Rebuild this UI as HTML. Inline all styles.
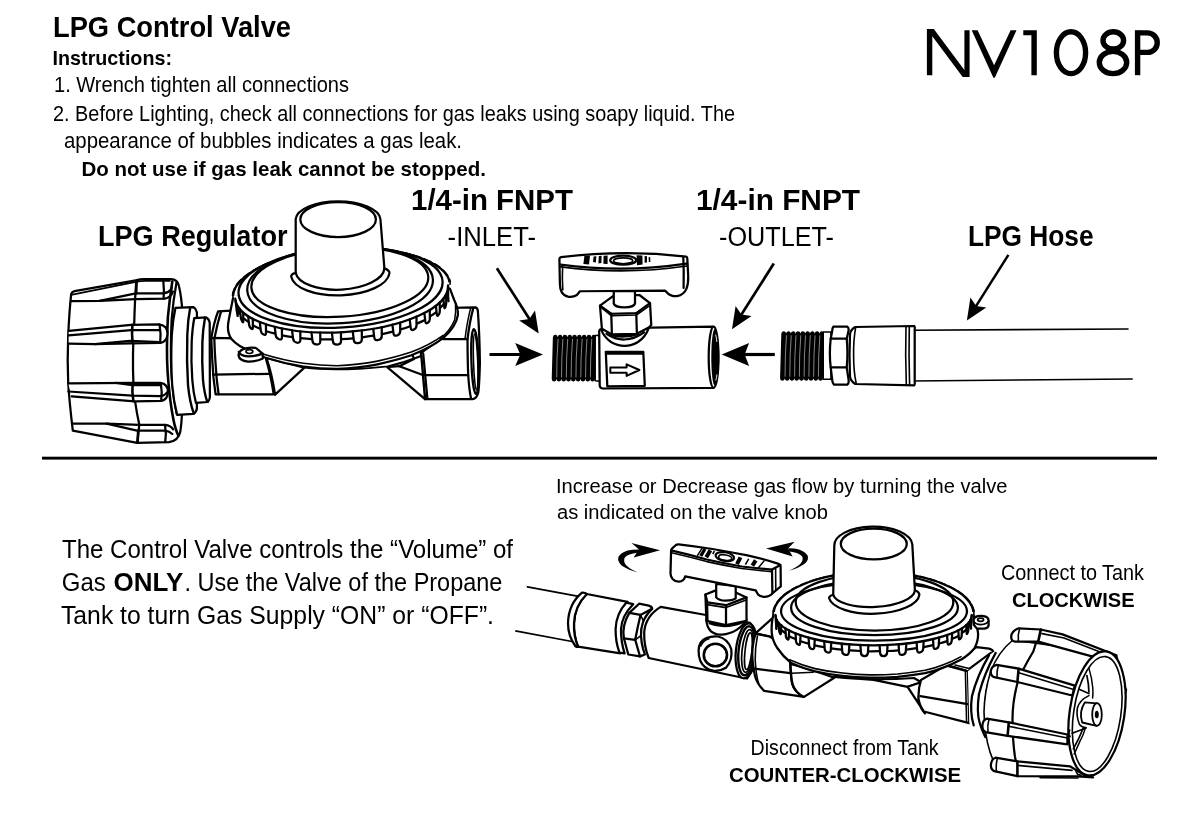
<!DOCTYPE html>
<html lang="en">
<head>
<meta charset="utf-8">
<title>NV108P LPG Control Valve</title>
<style>
html,body{margin:0;padding:0;background:#fff;}
body{width:1200px;height:819px;overflow:hidden;font-family:"Liberation Sans",sans-serif;}
svg{display:block;}
text{font-family:"Liberation Sans",sans-serif;fill:#000;}
.ln{fill:none;stroke:#000;stroke-width:2.25;stroke-linecap:round;stroke-linejoin:round;}
.lw{fill:#fff;stroke:#000;stroke-width:2.25;stroke-linecap:round;stroke-linejoin:round;}
.th{fill:none;stroke:#000;stroke-width:1.4;stroke-linecap:round;stroke-linejoin:round;}
.tw{fill:#fff;stroke:#000;stroke-width:1.4;stroke-linecap:round;stroke-linejoin:round;}
.bk{fill:#000;stroke:none;}
.ar{fill:none;stroke:#000;stroke-width:2.6;stroke-linecap:butt;}
</style>
</head>
<body>
<svg width="1200" height="819" viewBox="0 0 1200 819">
<rect x="0" y="0" width="1200" height="819" fill="#fff"/>
<!-- 00_rule.svg -->
<rect x="42" y="456.7" width="1115" height="2.9" fill="#000"/>
<!-- 05_model.svg -->
<g id="modelNo">
<path class="bk" d="M926.9,30.2 L926.9,29 L933.8,29 L964.4,70 L964.4,30.2 L969.6,30.2 L969.6,77 L962.7,77 L932.3,36.2 L932.3,75.2 L926.9,75.2 Z"/>
<path class="bk" d="M971.7,30.2 L977.6,30.2 L994.1,65.3 L1010.6,30.2 L1016.5,30.2 L994.8,77.8 L993.4,77.8 Z"/>
<path class="bk" d="M1023.3,30.2 L1036.8,30.2 L1036.8,75.2 L1031.4,75.2 L1031.4,35.2 L1023.3,35.2 Z"/>
<ellipse cx="1071" cy="52.7" rx="14.6" ry="20.9" fill="none" stroke="#000" stroke-width="5.4"/>
<ellipse cx="1113.3" cy="40.4" rx="10.3" ry="8.6" fill="none" stroke="#000" stroke-width="5.4"/>
<ellipse cx="1113" cy="62.5" rx="13.7" ry="11.1" fill="none" stroke="#000" stroke-width="5.4"/>
<path class="bk" d="M1134.9,30.2 L1140.3,30.2 L1140.3,75.2 L1134.9,75.2 Z"/>
<path d="M1139,32.9 L1147.5,32.9 A9.75,9.75 0 0 1 1147.5,52.4 L1139,52.4" fill="none" stroke="#000" stroke-width="5.4"/>
</g>
<!-- 10_nut_top.svg -->
<g id="nutTop">
<!-- nut silhouette -->
<path class="lw" d="M71.2,293.8 Q72,291.8 74.5,291.2 L135.8,280.4 Q140,279.3 144,279.2 L171,279.2 Q177.5,279.6 178.8,285.5 Q181.5,296 182.6,315 Q183.6,360 182.4,405 Q181.6,425 180.2,432 Q178.5,440.5 169,442.2 L137.2,442.8 L72.8,430.6 Q69.2,400 68.2,383 Q67.2,360 68.2,336 Q69.2,312 71.2,293.8 Z"/>
<!-- double top edge -->
<path class="ln" d="M72.4,294.6 L135.8,281.9 Q140,281 146,280.9 L170,280.9" style="stroke-width:1.6"/>
<!-- seam line -->
<path class="ln" d="M136.3,280.4 Q134.8,300 134.2,324.6 Q132.2,355 133.4,382.8 Q134,400 139.3,424.8 L137.2,442.8"/>
<!-- right-face '(' curves -->
<path class="ln" d="M172.3,281.5 Q169.5,300 167.9,317 Q166.2,350 167.6,372 Q169.5,400 173.5,420 Q175.5,430 178.4,435.6" style="stroke-width:2.6"/>
<path class="ln" d="M176.6,282 Q173.2,300 171.6,320 Q170.3,350 171.4,372 Q173,398 176.8,414"/>
<!-- top rib -->
<path class="ln" d="M71.8,301.2 L99.7,300.8 L135.8,293.4 L162.7,293.3 Q169.8,292.8 171.6,288"/>
<path class="ln" d="M99.7,300.8 L135.8,299.2 L165,298.6 Q171.3,297 173,291.5"/>
<path class="ln" d="M163.3,281 Q164.3,290 163.6,298.6"/>
<path class="ln" d="M136.6,281 L136.2,293.4" style="stroke-width:2.6"/>
<!-- upper-mid rib -->
<path class="lw" d="M68.7,330.8 L131.2,324.9 L159.2,324.3 Q167.6,325.5 167.5,333.5 Q167.3,341.5 160.3,343 L130,343.4 L95,344.2 L68.6,343.6"/>
<path class="ln" d="M68.6,335.4 L131.2,330.2 L159.6,330.2"/>
<path class="ln" d="M95,344.2 L130,340.8 L160,342.2" />
<path class="ln" d="M159.6,324.6 Q161.2,334 160.2,342.8"/>
<path class="ln" d="M132.4,324.9 Q131.6,334 132.6,343.2" style="stroke-width:2.6"/>
<!-- lower-mid rib -->
<path class="lw" d="M68.3,383.4 L132.3,382.8 L160.3,382.8 Q168,384 167.9,391.5 Q167.8,399.6 161.5,400.9 L134.7,401.4 L71.7,396.3"/>
<path class="ln" d="M116,382.9 L132.3,385.1 L160.6,385.1"/>
<path class="ln" d="M68.4,391.5 L132.3,395.7 L160.6,396.2 Q165,395.6 167,392.5"/>
<path class="ln" d="M160.8,383 Q162.4,392 161.2,400.8"/>
<path class="ln" d="M132.6,383 Q131.8,392 133.4,401.2" style="stroke-width:2.6"/>
<!-- bottom rib -->
<path class="ln" d="M72.3,423.7 L106.7,423.7 L139.3,424.9 L165,424.9 Q171,425.6 173.2,429.4"/>
<path class="ln" d="M106.7,423.7 L137,430.7 L165,430.7 Q169.5,431.4 172.3,434"/>
<path class="ln" d="M165,425 Q166.6,434 165.2,441.8"/>
<path class="ln" d="M138.2,430.6 L137.6,442.6" style="stroke-width:2.6"/>
<!-- ring 1 -->
<path class="lw" d="M175.4,307.9 L193.3,307.1 Q196,308.5 196.9,312.2 L196.9,408.5 Q196.2,412.5 193.3,413.9 L177.1,414.8 Q173.4,400 172.2,385 Q170.6,361 171.8,335 Q172.8,320 175.4,307.9 Z"/>
<path class="ln" d="M190.2,307.5 Q187.8,320 187.3,335 Q186.5,361 188,385 Q189.6,402 193.8,413.5" style="stroke-width:2.4"/>
<!-- ring 2 -->
<path class="lw" d="M194.2,318.2 L206.2,317.4 Q209,318.8 209.7,322.6 L209.9,397 Q209.5,400.6 207.9,402 L195.9,402.8 Q193.2,392 192.3,380 Q190.9,361 191.7,341 Q192.4,328 194.2,318.2 Z"/>
<path class="ln" d="M205,317.8 Q202.8,330 202.4,342 Q201.8,362 203,380 Q204.2,393 207.2,401.6" style="stroke-width:2.4"/>
</g>
<!-- 20_reg_top.svg -->
<g id="regTop">
<path class="lw" d="M218.1,311.4 L236,310.3 L240,338.5 L211.3,337.9 Q214,322 218.1,311.4 Z"/>
<path class="lw" d="M211.3,337.9 L250,338.7 L268,356 Q272,372 275.1,394.3 L215.6,394.3 Q213,378 212.4,362 Q211.6,348 211.3,337.9 Z"/>
<path class="ln" d="M214.3,338.2 Q214.6,350 215.6,364 Q216.4,380 218.6,394"/>
<path class="ln" d="M213,374.6 L269.8,373.8"/>
<path class="ln" d="M266,359 Q270.5,374 273.6,393.5"/>
<path class="ln" d="M221,311.6 Q217.2,324 214.6,337.6"/>
<path class="lw" d="M266.5,358 Q272,374 275.1,394.6 L304.4,367.6 Z"/>
<path class="lw" d="M452,307.9 L475.5,307.3 Q477.9,308.4 477.9,311.5 Q479.6,335 479.9,363 Q479.4,383 478.4,392 Q477,398.5 472.6,399.2 L425,399.2 L420.8,353 L440,339.1 Z"/>
<path class="ln" d="M443.3,339.1 L467.5,339.1"/>
<path class="ln" d="M473.2,308.4 Q469.6,322 467.5,339.1 Q467.6,360 468.2,375 Q469.2,390 471.1,398.8"/>
<path class="ln" d="M470.6,308.4 Q467,322 465,339.1" style="stroke-width:1.5"/>
<path class="ln" d="M422.8,375 L468.2,375"/>
<path class="ln" d="M423.2,353.5 L427.4,398.8"/>
<ellipse class="ln" cx="475" cy="361.5" rx="3.6" ry="32.5" transform="rotate(-2 475 361.5)"/>
<ellipse class="ln" cx="475.6" cy="362" rx="2.1" ry="28" transform="rotate(-2 475 361.5)" style="stroke-width:1.5"/>
<path class="lw" d="M386.9,366.9 L425,399.2 L421.3,356 L404,362 Z"/>
<path class="ln" d="M399.3,366.2 L422.8,375"/>
<path class="ln" d="M412.5,355.2 L414,358.9 L399.3,366.2 L389,367"/>
<path class="lw" d="M232.9,298.8 Q230.2,312 228.4,322 Q226.6,332 231.5,339 Q238,346.5 249.3,350.3 Q256,354 265,357.5 Q284,363.6 303.3,366.5 Q320,368.9 337,368.9 Q358,368.2 377.5,364.3 Q396,360.4 411.3,355.3 Q430,348 442.8,338.4 Q456,327 457.9,315 Q458.2,308 454.2,300 Q452,294 450,288.8 L341,250 Z"/>
<path class="ln" d="M262.8,354 Q284,360.4 303.3,363.3 Q320,365.7 337,365.7 Q358,365 377.5,361.1 Q396,357.2 411.3,352.1 Q430,344.8 442.8,335.6" style="stroke-width:1.6"/>
<path class="ln" d="M304.4,367.8 Q337,371.6 385.4,366.6" style="stroke-width:1.6"/>
<path class="ln" d="M455.5,303 Q456.2,312 454.6,320 Q450,331 440,338.6" style="stroke-width:1.5"/>
<g transform="rotate(-3.5 341 290)">
<path class="lw" d="M233.0,290.5 A108.5,41.5 0 0 1 450.0,290.5 Z"/>
<path class="ln" d="M232.4,288.5 A109.3,42.8 0 0 1 450.6,288.5" style="stroke-width:1.6;stroke-dasharray:7 4"/>
<path d="M233.4,289.2 A108.1,40.0 0 0 0 449.6,289.2" fill="#fff" stroke="none"/>
<path class="ln" d="M447.4,301.1 A106.6,40.0 0 0 1 445.4,305.5"/>
<path class="ln" d="M443.0,309.9 A106.6,40.0 0 0 1 438.8,314.0"/>
<path class="ln" d="M434.7,318.0 A106.6,40.0 0 0 1 428.4,321.8"/>
<path class="ln" d="M422.8,325.0 A106.6,40.0 0 0 1 414.7,328.2"/>
<path class="ln" d="M407.8,330.4 A106.6,40.0 0 0 1 398.1,333.0"/>
<path class="ln" d="M390.2,334.7 A106.6,40.0 0 0 1 379.4,336.5"/>
<path class="ln" d="M370.8,337.6 A106.6,40.0 0 0 1 359.3,338.5"/>
<path class="ln" d="M350.2,339.0 A106.6,40.0 0 0 1 338.4,339.1"/>
<path class="ln" d="M329.3,338.8 A106.6,40.0 0 0 1 317.7,338.1"/>
<path class="ln" d="M308.9,337.2 A106.6,40.0 0 0 1 297.9,335.6"/>
<path class="ln" d="M289.7,334.1 A106.6,40.0 0 0 1 279.7,331.7"/>
<path class="ln" d="M272.6,329.6 A106.6,40.0 0 0 1 264.0,326.6"/>
<path class="ln" d="M258.0,323.7 A106.6,40.0 0 0 1 251.2,320.1"/>
<path class="ln" d="M246.7,316.2 A106.6,40.0 0 0 1 241.9,312.1"/>
<path class="ln" d="M239.0,307.9 A106.6,40.0 0 0 1 236.4,303.5"/>
<path class="lw" d="M447.0,297.9 L447.5,307.7 Q447.7,308.1 447.6,305.3 Q447.4,302.5 447.6,302.0 L448.1,292.2"/>
<path class="lw" d="M442.6,304.8 L443.1,314.0 Q443.3,315.2 444.2,313.2 Q445.0,311.1 445.2,309.9 L445.7,300.7"/>
<path class="lw" d="M434.7,311.6 L435.2,320.8 Q435.4,322.5 436.7,320.9 Q438.1,319.4 438.3,317.7 L438.8,308.6"/>
<path class="lw" d="M422.8,318.1 L423.3,327.0 Q423.5,329.3 425.6,328.0 Q427.7,326.6 427.9,324.3 L428.4,315.4"/>
<path class="lw" d="M407.8,323.5 L408.3,332.2 Q408.5,335.1 411.2,334.0 Q414.0,332.9 414.2,330.0 L414.7,321.3"/>
<path class="lw" d="M390.2,327.8 L390.7,336.3 Q390.9,339.7 394.2,338.8 Q397.4,338.0 397.6,334.6 L398.1,326.1"/>
<path class="lw" d="M370.8,330.7 L371.3,339.3 Q371.5,342.7 375.1,342.2 Q378.7,341.7 378.9,338.3 L379.4,329.6"/>
<path class="lw" d="M350.2,332.1 L350.7,340.8 Q350.9,344.2 354.8,344.0 Q358.6,343.8 358.8,340.4 L359.3,331.6"/>
<path class="lw" d="M329.3,331.9 L329.8,340.7 Q330.0,344.1 333.9,344.3 Q337.7,344.4 337.9,341.0 L338.4,332.2"/>
<path class="lw" d="M308.9,330.3 L309.4,339.0 Q309.6,342.4 313.3,342.9 Q317.0,343.3 317.2,339.9 L317.7,331.2"/>
<path class="lw" d="M289.7,327.2 L290.2,335.7 Q290.4,339.1 293.8,339.9 Q297.2,340.6 297.4,337.2 L297.9,328.7"/>
<path class="lw" d="M272.6,322.7 L273.1,331.4 Q273.3,334.4 276.2,335.4 Q279.0,336.5 279.2,333.5 L279.7,324.8"/>
<path class="lw" d="M258.0,317.1 L258.5,325.9 Q258.7,328.4 261.0,329.7 Q263.3,331.0 263.5,328.5 L264.0,319.7"/>
<path class="lw" d="M246.7,310.5 L247.2,319.6 Q247.4,321.5 248.9,322.9 Q250.5,324.4 250.7,322.5 L251.2,313.5"/>
<path class="lw" d="M238.9,303.1 L239.4,312.4 Q239.6,313.6 240.5,315.3 Q241.3,317.0 241.5,315.8 L242.0,306.5"/>
<path class="lw" d="M235.1,294.4 L235.6,303.8 Q235.8,304.6 236.0,307.4 Q236.2,310.2 236.4,309.4 L236.9,300.0"/>
<path class="ln" d="M234.9,292.2 A106.6,40.0 0 0 0 448.1,292.2" />
<ellipse class="lw" cx="340.7" cy="287.5" rx="102.2" ry="40"/>
<ellipse class="ln" cx="340.4" cy="285" rx="93" ry="38.2"/>
<ellipse class="ln" cx="340.3" cy="282.1" rx="88.6" ry="34.6"/>
</g>
<path class="lw" d="M291.2,276.6 Q291.2,274 295.7,272.9 L295.7,219 A42.4,18.6 0 0 1 380.4,219 L384.4,268.4 Q389.4,270.2 389.5,273 A49.3,22 -2 0 1 291.2,276.6 Z"/>
<path class="ln" d="M295.7,272.9 A44.5,20.3 -2.5 0 0 384.4,268.4"/>
<ellipse class="ln" cx="338.1" cy="219.5" rx="37.8" ry="17.5"/>
<path class="lw" d="M238.6,355.8 Q238.2,351.6 243,349.3 Q249,346.8 256,348 L262.6,353.6 L262.8,358.4 Q256,361.8 248,361.6 Q239.4,360.8 238.6,355.8 Z"/>
<path class="ln" d="M238.8,351.8 Q240,355.6 248,356.3 Q256,356.4 262.6,353.6"/>
<ellipse class="ln" cx="249.4" cy="351.6" rx="3.4" ry="1.9" style="stroke-width:1.7"/>
</g>
<!-- 30_valve_top.svg -->
<g id="valveTop">
<rect x="553.8" y="337.0" width="40.3" height="42.2" fill="#000"/>
<rect x="552.30" y="334.8" width="4.81" height="46.6" rx="2.2" ry="2.6" fill="#000" transform="skewX(-1.6) translate(9.99 0)"/>
<rect x="557.11" y="334.8" width="4.81" height="46.6" rx="2.2" ry="2.6" fill="#000" transform="skewX(-1.6) translate(9.99 0)"/>
<rect x="561.92" y="334.8" width="4.81" height="46.6" rx="2.2" ry="2.6" fill="#000" transform="skewX(-1.6) translate(9.99 0)"/>
<rect x="566.73" y="334.8" width="4.81" height="46.6" rx="2.2" ry="2.6" fill="#000" transform="skewX(-1.6) translate(9.99 0)"/>
<rect x="571.54" y="334.8" width="4.81" height="46.6" rx="2.2" ry="2.6" fill="#000" transform="skewX(-1.6) translate(9.99 0)"/>
<rect x="576.36" y="334.8" width="4.81" height="46.6" rx="2.2" ry="2.6" fill="#000" transform="skewX(-1.6) translate(9.99 0)"/>
<rect x="581.17" y="334.8" width="4.81" height="46.6" rx="2.2" ry="2.6" fill="#000" transform="skewX(-1.6) translate(9.99 0)"/>
<rect x="585.98" y="334.8" width="4.81" height="46.6" rx="2.2" ry="2.6" fill="#000" transform="skewX(-1.6) translate(9.99 0)"/>
<rect x="590.79" y="334.8" width="4.81" height="46.6" rx="2.2" ry="2.6" fill="#000" transform="skewX(-1.6) translate(9.99 0)"/>
<path d="M558.11,338.8 Q556.61,358.1 556.71,377.4" fill="none" stroke="#b0b0b0" stroke-width="0.75"/>
<path d="M562.92,338.8 Q561.42,358.1 561.52,377.4" fill="none" stroke="#b0b0b0" stroke-width="0.75"/>
<path d="M567.73,338.8 Q566.23,358.1 566.33,377.4" fill="none" stroke="#b0b0b0" stroke-width="0.75"/>
<path d="M572.54,338.8 Q571.04,358.1 571.14,377.4" fill="none" stroke="#b0b0b0" stroke-width="0.75"/>
<path d="M577.36,338.8 Q575.86,358.1 575.96,377.4" fill="none" stroke="#b0b0b0" stroke-width="0.75"/>
<path d="M582.17,338.8 Q580.67,358.1 580.77,377.4" fill="none" stroke="#b0b0b0" stroke-width="0.75"/>
<path d="M586.98,338.8 Q585.48,358.1 585.58,377.4" fill="none" stroke="#b0b0b0" stroke-width="0.75"/>
<path d="M591.79,338.8 Q590.29,358.1 590.39,377.4" fill="none" stroke="#b0b0b0" stroke-width="0.75"/>
<path class="lw" d="M595.2,335.6 L599.6,335.2 L599.6,381.2 L595.2,380.8 Z" style="stroke-width:1.5"/>
<path class="lw" d="M599.2,331 Q599.4,329.4 601.4,329.2 L651.5,327.7 L713,326.7 A5.4,30.6 0 0 1 713,387.8 L602.4,388.5 Q599.9,388 599.7,385.5 Z"/>
<ellipse class="lw" cx="713.6" cy="357.3" rx="4.9" ry="30.6"/>
<ellipse class="bk" cx="714.8" cy="357.3" rx="3.5" ry="28.4"/>
<path d="M715.6,334.5 Q716.6,338 716.9,342" fill="none" stroke="#fff" stroke-width="0.9"/>
<path d="M715.8,380.5 Q716.6,377.5 716.9,374.5" fill="none" stroke="#fff" stroke-width="0.9"/>
<path class="lw" d="M605.8,351.8 L643.3,351.8 L644.8,385.9 L607.3,386.3 Z"/>
<path class="ln" d="M606,353.9 L643.3,353.9" style="stroke-width:1.6"/>
<path class="lw" d="M610.3,367.4 L626.6,367.4 L626.6,364.3 L639.4,370 L626.6,375.9 L626.6,372.8 L610.3,372.8 Z" style="stroke-width:2"/>
<path class="lw" d="M601.2,329.6 Q604,337 611,342 Q618,346 624.5,345.9 Q632,345.6 638,342 Q645.5,337 648.5,328.6 Z"/>
<path class="ln" d="M606.5,333.8 Q615,339.6 624.5,339.5 Q635,339 644,332.3"/>
<path d="M610,334.3 Q624,338.4 638.5,333.4" fill="none" stroke="#000" stroke-width="3.2"/>
<path class="lw" d="M600,305.6 L613.75,295.6 L639.4,295 L650,303.1 L651.25,325 L648.75,327.5 L636.9,333.8 L611.9,334.4 L601.9,328.75 Z"/>
<path class="ln" d="M600,305.6 L611.25,313.75 L636.25,313.1 L650,303.1"/>
<path class="ln" d="M601.6,307.9 L611.3,315.6 L636.4,315 L649.6,305.6" style="stroke-width:1.6"/>
<path class="ln" d="M611.25,313.75 L611.9,334.4"/>
<path class="ln" d="M636.25,313.1 L636.9,333.8"/>
<path class="lw" d="M613.75,291 L613.75,303.6 A10.7,4.2 0 0 0 635,303.6 L635,291 Z"/>
<path class="lw" d="M559.4,259 Q559.6,257.6 561,257.2 Q623.75,249.4 686,256.6 Q687.2,257 687.3,258.4 L688.2,276 Q688.4,284 686.6,288.4 Q684,294.8 677,296.2 Q671,296.6 667.5,293.1 Q666,291.4 665,290.6 L580,291.25 Q578.6,293 576.9,295 Q573,297.6 568,296.7 Q563.4,295.6 561.6,292 Q560,289 559.9,284 Z"/>
<path class="ln" d="M560.4,264.6 Q623.75,273 686.6,263.6"/>
<path class="ln" d="M560.6,266.9 Q623.75,275.3 686.8,266" style="stroke-width:1.6"/>
<path class="ln" d="M683.3,257.2 Q684,272 683.6,288"/>
<path class="ln" d="M562.6,266.6 Q562,278 562.8,290" style="stroke-width:1.6"/>
<ellipse class="lw" cx="623.2" cy="260.2" rx="13" ry="4.5"/>
<ellipse class="ln" cx="623.2" cy="260.8" rx="9.6" ry="2.9" style="stroke-width:1.6"/>
<path class="bk" d="M584.4,256 L590,255.6 L589,264.4 L583.4,264 Z"/>
<path class="bk" d="M636.6,255.3 L642.4,255.6 L642.6,264.6 L637,265.2 Z"/>
<path class="bk" d="M593.6,256.4 L596.4,256.2 L595.8,262.4 L593,262 Z M598.8,256 L601.6,255.8 L601.4,263 L598.4,263.4 Z M603.6,255.8 L607.6,255.5 L607.6,264 L603.4,263.8 Z"/>
<path class="bk" d="M644.6,256 L647,256.2 L647,262.6 L644.6,262.8 Z M648.6,257 L650.2,257.2 L650.4,262 L648.8,262 Z"/>
</g>
<!-- 40_arrows.svg -->
<g id="arrows">
<path d="M489.5,354.5 L521.3,354.5" stroke="#000" stroke-width="3.2" fill="none"/><path class="bk" d="M543.0,354.5 L515.2,365.9 L520.3,354.5 L515.2,343.1 Z"/>
<path d="M774.8,354.5 L743.7,354.5" stroke="#000" stroke-width="3.2" fill="none"/><path class="bk" d="M721.7,354.5 L749.1,343.1 L744.7,354.5 L749.1,365.9 Z"/>
<path d="M496.9,268.3 L529.9,319.8" stroke="#000" stroke-width="2.7" fill="none"/><path class="bk" d="M538.7,333.6 L519.2,320.6 L529.3,318.9 L535.0,310.4 Z"/>
<path d="M773.8,263.6 L740.8,315.4" stroke="#000" stroke-width="2.7" fill="none"/><path class="bk" d="M732.0,329.2 L735.6,306.0 L741.4,314.5 L751.5,316.1 Z"/>
<path d="M1008.4,254.9 L975.7,306.7" stroke="#000" stroke-width="2.5" fill="none"/><path class="bk" d="M966.9,320.6 L970.4,297.4 L976.2,305.9 L986.3,307.4 Z"/>
</g>
<!-- 50_hose_top.svg -->
<g id="hoseTop">
<path class="lw" d="M1128,329 L912,330.2 L912,381 L1132.2,379" style="stroke-width:1.6"/>
<path d="M1126,330 L1140,330 L1140,378 L1126,378 Z" fill="#fff" stroke="none"/>
<rect x="782.2" y="333.5" width="39.9" height="45.0" fill="#000"/>
<rect x="780.70" y="331.3" width="4.77" height="49.4" rx="2.2" ry="2.6" fill="#000" transform="skewX(-1.6) translate(9.93 0)"/>
<rect x="785.47" y="331.3" width="4.77" height="49.4" rx="2.2" ry="2.6" fill="#000" transform="skewX(-1.6) translate(9.93 0)"/>
<rect x="790.23" y="331.3" width="4.77" height="49.4" rx="2.2" ry="2.6" fill="#000" transform="skewX(-1.6) translate(9.93 0)"/>
<rect x="795.00" y="331.3" width="4.77" height="49.4" rx="2.2" ry="2.6" fill="#000" transform="skewX(-1.6) translate(9.93 0)"/>
<rect x="799.77" y="331.3" width="4.77" height="49.4" rx="2.2" ry="2.6" fill="#000" transform="skewX(-1.6) translate(9.93 0)"/>
<rect x="804.53" y="331.3" width="4.77" height="49.4" rx="2.2" ry="2.6" fill="#000" transform="skewX(-1.6) translate(9.93 0)"/>
<rect x="809.30" y="331.3" width="4.77" height="49.4" rx="2.2" ry="2.6" fill="#000" transform="skewX(-1.6) translate(9.93 0)"/>
<rect x="814.07" y="331.3" width="4.77" height="49.4" rx="2.2" ry="2.6" fill="#000" transform="skewX(-1.6) translate(9.93 0)"/>
<rect x="818.83" y="331.3" width="4.77" height="49.4" rx="2.2" ry="2.6" fill="#000" transform="skewX(-1.6) translate(9.93 0)"/>
<path d="M786.47,335.3 Q784.97,356.0 785.07,376.7" fill="none" stroke="#b0b0b0" stroke-width="0.75"/>
<path d="M791.23,335.3 Q789.73,356.0 789.83,376.7" fill="none" stroke="#b0b0b0" stroke-width="0.75"/>
<path d="M796.00,335.3 Q794.50,356.0 794.60,376.7" fill="none" stroke="#b0b0b0" stroke-width="0.75"/>
<path d="M800.77,335.3 Q799.27,356.0 799.37,376.7" fill="none" stroke="#b0b0b0" stroke-width="0.75"/>
<path d="M805.53,335.3 Q804.03,356.0 804.13,376.7" fill="none" stroke="#b0b0b0" stroke-width="0.75"/>
<path d="M810.30,335.3 Q808.80,356.0 808.90,376.7" fill="none" stroke="#b0b0b0" stroke-width="0.75"/>
<path d="M815.07,335.3 Q813.57,356.0 813.67,376.7" fill="none" stroke="#b0b0b0" stroke-width="0.75"/>
<path d="M819.83,335.3 Q818.33,356.0 818.43,376.7" fill="none" stroke="#b0b0b0" stroke-width="0.75"/>
<path class="lw" d="M823.2,332 L831,332 L831,379.3 L823.2,379.3 Z" style="stroke-width:1.6"/>
<path class="lw" d="M833.3,326.7 L847.3,326.7 Q848.9,328 848.7,330 L846.7,338.7 Q848.2,354 846.7,367.3 L848.7,380.7 Q848.8,383.6 847.3,384.7 L834,384.7 Q832.4,383 832.2,380 L830.7,367.3 Q829,354 830.7,338.7 L832.2,331 Q832.2,328 833.3,326.7 Z"/>
<path class="ln" d="M830.7,338.7 L846.7,338.7"/>
<path class="ln" d="M830.7,367.3 L846.7,367.3"/>
<path class="lw" d="M855.3,327 L914.2,326 Q915.2,327.2 914.7,329 L914.7,382.6 Q915.2,384.4 914.3,385.3 L855.3,384 Q850.4,381 850,376.7 Q849,354 850,334 Q850.6,329.6 855.3,327 Z"/>
<path class="ln" d="M855.6,327.8 Q853.4,340 853.6,355 Q853.6,372 856.2,383.2" style="stroke-width:1.6"/>
<path class="ln" d="M906,326.6 Q905.2,355 906.3,384.8" style="stroke-width:1.6"/>
<path class="ln" d="M909.3,326.6 Q908.6,355 909.6,385" style="stroke-width:1.6"/>
</g>
<!-- 60_bot_a.svg -->
<g id="botA">
<path class="lw" d="M526,586.7 L580,596.7 L572,641.5 L514,630.7" style="stroke-width:1.7"/>
<path d="M505,575 L527,586 L515,632 L500,640 Z" fill="#fff" stroke="none"/>
<path class="lw" d="M586.7,594 L627.6,601.8 Q617,614 616.6,629.1 Q616.4,642 620.4,653.3 L578,646.7 Q573.6,636 574,623.3 Q574.6,606 586.7,594 Z"/>
<path class="lw" d="M582,592.7 Q584.6,592.4 586.9,594 Q574.6,606 574,623.3 Q573.4,636 578.2,646.9 Q576.8,647.2 575.3,646 Q568,636 568,623.3 Q568.4,604 582,592.7 Z"/>
<path class="lw" d="M626.4,602.6 L633.2,604.2 Q621.6,616 621,629.1 Q620.8,642 624.6,653.4 L619.5,652.6 Q615.4,642 615.6,629.1 Q616,614 626.4,602.6 Z"/>
<path class="lw" d="M639.1,603.7 L648.8,605.6 Q652,606.6 652.2,608.6 Q645,616 643,622.2 Q640.6,629 641,635.9 Q641.4,643 643,648.6 L644.9,654.5 L640,656.4 L628.3,654.5 L623.9,638.3 Q621.6,626 629.3,612.9 Z"/>
<path class="ln" d="M629.3,612.9 L640.5,614.9 L652,608.8"/>
<path class="ln" d="M640.5,614.9 Q637.8,626 635.2,639.8 L623.9,638.3"/>
<path class="ln" d="M635.2,639.8 L640,656.4"/>
<path class="ln" d="M635.2,639.8 L641,635.6" style="stroke-width:1.6"/>
<path class="ln" d="M640.5,614.9 L643.4,621" style="stroke-width:1.6"/>
<path class="lw" d="M660.7,606.9 L706,615 L750,622.8 Q757,634 757,651 Q756,668 747,678.5 L741.6,677.5 L648.7,658 Q643.8,646 644.2,632 Q645.6,616 660.7,606.9 Z"/>
<ellipse class="lw" cx="746.2" cy="650.8" rx="10.3" ry="27.6" transform="rotate(6 746.2 650.8)"/>
<ellipse class="ln" cx="746.8" cy="650.8" rx="8.2" ry="24.6" transform="rotate(6 746.8 650.8)" style="stroke-width:2.4"/>
<ellipse class="ln" cx="747.6" cy="651" rx="5.6" ry="21.4" transform="rotate(6 747.6 651)" style="stroke-width:1.7"/>
<ellipse class="ln" cx="748.4" cy="651.2" rx="3.4" ry="18.4" transform="rotate(6 748.4 651.2)" style="stroke-width:1.6"/>
<path class="lw" d="M698.6,650 Q699,641 706.4,638 Q712,635.8 718.1,636.5 Q727.9,638.6 731.2,649 Q733,660 726,667.7 Q720,671.4 713.2,670.7 Q704,669 700.4,661 Q698.4,656 698.6,650 Z"/>
<ellipse class="ln" cx="715.4" cy="655" rx="11.6" ry="11.3" style="stroke-width:2.6"/>
<path class="ln" d="M700.8,646 Q703,640.6 709,638.8" style="stroke-width:1.6"/>
<path class="lw" d="M706.4,619.5 Q706.6,627 711,631.4 Q715.6,635 722,634.7 Q730,634 737,629.6 Q744,625 746.5,619.5 Z"/>
<path d="M709,622.6 Q725,629.6 744.5,621.2" fill="none" stroke="#000" stroke-width="3"/>
<path class="lw" d="M705.4,594.5 L715.2,590.6 L735.7,592.5 L746.5,597.4 L746.5,620.8 L726,625.2 L706.4,620.8 Z"/>
<path class="ln" d="M705.4,594.5 L707.4,602.3 L726,605.2 L746.5,597.4"/>
<path class="ln" d="M707.2,604.6 L726,607.6 L746.2,599.9" style="stroke-width:1.6"/>
<path class="ln" d="M726,605.2 L726,625"/>
<path class="ln" d="M707.4,602.3 L707.8,620.8" style="stroke-width:1.6"/>
<path class="lw" d="M716.2,584 L716.2,597.4 Q719,600.8 726,600.6 Q733,600.4 735.7,598.4 L735.7,586 Z"/>
<path class="lw" d="M671.1,550.4 Q671.4,549.2 672.4,548.2 L676,545 Q677,544.2 678.6,544.3 Q695,546.2 712.5,549 Q730,552 747.5,555.4 Q764,559 778.6,563.9 Q780.6,564.6 780.6,566.4 L780.8,586.3 L772.6,593.2 Q769,597 763.8,596.8 Q759.6,596.4 758,594.5 Q756.6,592 755.7,590.4 L685.1,576.4 Q684.6,578.8 683.3,579.9 Q681,581.9 678.7,581.7 Q675,581.6 672.8,579.3 Q670.6,576.8 670.5,573.5 Z"/>
<path class="ln" d="M671.1,550.4 Q689,554.6 706.7,559.5 Q724,563.4 741.7,566.5 Q757,568.4 772,569.6 L780.4,565"/>
<path class="ln" d="M671.6,552.8 Q689,556.8 706.7,561.6 Q724,565.4 741.7,568.5 Q757,570.4 771.8,571.6" style="stroke-width:1.6"/>
<path class="ln" d="M772,569.6 L772.4,593.2"/>
<path class="ln" d="M775.6,568 L775.8,590.6" style="stroke-width:1.6"/>
<path class="ln" d="M702,548.4 L697.6,555.4 M764,561 L758.6,567.4" style="stroke-width:1.5"/>
<ellipse class="lw" cx="724.8" cy="556.6" rx="9.3" ry="4.4" transform="rotate(9 724.8 556.6)"/>
<ellipse class="ln" cx="725.2" cy="557.6" rx="6.6" ry="2.7" transform="rotate(9 725.2 557.6)" style="stroke-width:1.6"/>
<path d="M704.9,549 L700.8,556" stroke="#000" stroke-width="3.4" fill="none"/>
<path d="M710.4,550.2 L706.3,557.2" stroke="#000" stroke-width="4" fill="none"/>
<path d="M714.4,551.2 L712.8,554" stroke="#000" stroke-width="1.6" fill="none"/>
<path d="M740.5,557.4 L737,564.2" stroke="#000" stroke-width="4" fill="none"/>
<path d="M748.7,558.8 L745.4,564.6" stroke="#000" stroke-width="1.5" fill="none"/>
<path d="M755.7,560.4 L752.4,565.6" stroke="#000" stroke-width="4" fill="none"/>
<path class="bk" d="M639,549.4 Q632,549.4 627.8,550.6 Q621,552.6 618.6,556.6 Q617,560.6 621.2,565.3 Q628,570 637.7,572.6 Q629,568.6 626,565 Q623,561 624.8,557.4 Q628,553.8 637.4,552.8 Z"/>
<path class="bk" d="M660.1,550.3 L631.5,542.9 L638.8,549.2 L633.7,557.6 Z"/>
<path class="bk" d="M788,548.2 Q794,548 799,549.5 Q805,551.6 807.6,555.6 Q809,559.6 805.5,563.1 Q799,568.4 789.1,570.8 Q797.6,567 800.6,563.6 Q803.6,560 802.2,556.6 Q799,552.8 789.4,551.6 Z"/>
<path class="bk" d="M766,548.4 L794.6,541.8 L788,548.4 L792.7,556.5 Z"/>
</g>
<!-- 70_bot_b.svg -->
<g id="botB">
<path class="lw" d="M755.4,633.3 L772,618.6 L790,640 L769.1,636.4 Z"/>
<path class="lw" d="M755.4,633.8 L769.1,636.4 L792,650 L790.3,663 Q791,676 792.1,683.2 Q794,691.6 804,696.9 L764.2,690.9 Q757,684 755,676 Q751.4,660 752.6,648 Q753.4,640 755.4,633.8 Z"/>
<path class="ln" d="M752.5,668.4 L790.3,673.1"/>
<path class="ln" d="M790.4,661 Q790.6,676 792.1,683.2 Q794.4,691.4 803,696.6"/>
<path class="ln" d="M757.4,636 Q755,648 755.2,660 Q756,676 759,684.6" style="stroke-width:1.6"/>
<path class="lw" d="M790.6,664 Q791,678 792.6,684 Q795,692.4 804,696.9 L834.3,677.7 L812,670 Z"/>
<path class="ln" d="M791.6,673.3 L813.2,672.2" style="stroke-width:1.6"/>
<path class="lw" d="M834.3,676.8 Q870,681 914,678 L921.3,682.3 L907.6,686.8 L873.7,679.8 Z"/>
<path class="lw" d="M907.6,686.8 L921.3,682.3 Q919,690 918.6,699.7 Q920,708 925,713.4 Z"/>
<path class="lw" d="M976.6,647.1 L989.1,648.6 Q992.6,649.6 993.5,651.9 L967.9,671.3 L953.2,666.9 L945.9,665.4 Z"/>
<path class="lw" d="M921,680 L945.9,665.4 L967.9,671.3 L969.3,723.2 L923.9,711.5 Q918.6,704 918.4,697 Q918.4,688 921,680 Z"/>
<path class="ln" d="M920.3,696.1 L967.9,704.2"/>
<path class="ln" d="M965.4,671.6 L966.6,722.4" style="stroke-width:1.6"/>
<path class="ln" d="M955,665 L969,668.6 L991,652.4" style="stroke-width:1.6"/>
<path class="lw" d="M993.5,651.9 Q1000,649 1006,648.6 L1000,720 L985,737 Q975,728 969.3,723.2 L967.9,671.3 Z" style="stroke:none"/>
<path class="ln" d="M989.1,655.1 Q977,676 972,696 Q969.6,712 973.7,725.4"/>
<path class="ln" d="M995.7,652.9 Q984,674 979,694 Q976.4,712 979.6,722.5 Q981.6,730 985.4,737.1"/>
<path class="ln" d="M1004.5,649.3 Q993,666 988,684 Q984.4,700 985.4,715.2 Q986,724 988.4,731.3"/>
<path class="lw" d="M773.7,613.2 Q771,624 771.8,633.3 Q772.6,641 777.3,648 Q783,656.6 791.2,663 Q802,668 815,671.3 Q828,674.4 842.5,675.8 Q856,677.6 870,677.7 Q884,677.8 897.5,676.8 Q912,675.4 925,673.1 Q935,671 943.3,667.6 Q953,664 961.7,659.3 Q970,654 974.5,648.3 Q978.4,641 978.1,633.3 Q977.4,624 973.5,615 L873,580 Z"/>
<path class="ln" d="M789.6,659.8 Q802,665.4 815,668.6 Q828,671.6 842.5,673 Q856,674.8 870,674.9 Q884,675 897.5,674 Q912,672.6 925,670.3 Q935,668.2 943.3,664.8 Q953,661.2 961,656.6" style="stroke-width:1.6"/>
<path class="lw" d="M773.6,614.0 A100.0,41.8 0 0 1 973.6,614.0 Z"/>
<path class="ln" d="M773.0,612.0 A100.8,43.1 0 0 1 974.2,612.0" style="stroke-width:1.6;stroke-dasharray:6.5 3.6"/>
<path d="M774.0,612.0 A99.6,30.3 0 0 0 973.2,612.0" fill="#fff" stroke="none"/>
<path class="ln" d="M970.8,623.0 A98.1,30.3 0 0 1 968.7,626.4"/>
<path class="ln" d="M966.4,629.7 A98.1,30.3 0 0 1 962.1,632.9"/>
<path class="ln" d="M958.3,635.9 A98.1,30.3 0 0 1 952.2,638.8"/>
<path class="ln" d="M947.1,641.1 A98.1,30.3 0 0 1 939.2,643.5"/>
<path class="ln" d="M933.0,645.1 A98.1,30.3 0 0 1 923.7,647.1"/>
<path class="ln" d="M916.6,648.2 A98.1,30.3 0 0 1 906.3,649.6"/>
<path class="ln" d="M898.6,650.3 A98.1,30.3 0 0 1 887.6,651.0"/>
<path class="ln" d="M879.6,651.2 A98.1,30.3 0 0 1 868.4,651.3"/>
<path class="ln" d="M860.4,651.0 A98.1,30.3 0 0 1 849.4,650.4"/>
<path class="ln" d="M841.7,649.6 A98.1,30.3 0 0 1 831.3,648.3"/>
<path class="ln" d="M824.2,647.2 A98.1,30.3 0 0 1 814.8,645.3"/>
<path class="ln" d="M808.6,643.7 A98.1,30.3 0 0 1 800.6,641.3"/>
<path class="ln" d="M795.5,639.0 A98.1,30.3 0 0 1 789.2,636.2"/>
<path class="ln" d="M785.4,633.1 A98.1,30.3 0 0 1 781.1,629.9"/>
<path class="ln" d="M778.7,626.7 A98.1,30.3 0 0 1 776.5,623.3"/>
<path class="lw" d="M970.4,619.9 L970.9,628.6 Q971.1,629.1 971.0,627.1 Q971.0,625.0 971.2,624.5 L971.7,615.8"/>
<path class="lw" d="M966.2,625.0 L966.7,633.4 Q966.9,634.5 967.5,633.1 Q968.1,631.7 968.3,630.6 L968.8,622.3"/>
<path class="lw" d="M958.3,630.3 L958.8,638.5 Q959.0,640.1 960.2,639.0 Q961.4,637.9 961.6,636.3 L962.1,628.1"/>
<path class="lw" d="M947.1,635.1 L947.6,643.1 Q947.8,645.3 949.6,644.3 Q951.5,643.3 951.7,641.2 L952.2,633.2"/>
<path class="lw" d="M933.0,639.1 L933.5,647.0 Q933.7,649.6 936.1,648.8 Q938.5,648.0 938.7,645.4 L939.2,637.5"/>
<path class="lw" d="M916.6,642.2 L917.1,650.0 Q917.3,653.0 920.1,652.4 Q923.0,651.8 923.2,648.8 L923.7,641.1"/>
<path class="lw" d="M898.6,644.3 L899.1,652.0 Q899.3,655.2 902.4,654.8 Q905.6,654.5 905.8,651.2 L906.3,643.6"/>
<path class="lw" d="M879.6,645.2 L880.1,652.9 Q880.3,656.2 883.6,656.1 Q886.9,656.0 887.1,652.6 L887.6,645.0"/>
<path class="lw" d="M860.4,645.0 L860.9,652.6 Q861.1,656.0 864.4,656.1 Q867.7,656.2 867.9,652.9 L868.4,645.3"/>
<path class="lw" d="M841.7,643.6 L842.2,651.3 Q842.4,654.6 845.5,654.9 Q848.7,655.3 848.9,652.0 L849.4,644.4"/>
<path class="lw" d="M824.2,641.2 L824.7,648.9 Q824.9,651.9 827.7,652.5 Q830.6,653.1 830.8,650.1 L831.3,642.3"/>
<path class="lw" d="M808.6,637.7 L809.1,645.6 Q809.3,648.2 811.7,649.0 Q814.1,649.8 814.3,647.1 L814.8,639.3"/>
<path class="lw" d="M795.5,633.3 L796.0,641.4 Q796.2,643.5 798.1,644.5 Q799.9,645.5 800.1,643.3 L800.6,635.3"/>
<path class="lw" d="M785.4,628.3 L785.9,636.5 Q786.1,638.1 787.3,639.2 Q788.5,640.3 788.7,638.7 L789.2,630.5"/>
<path class="lw" d="M778.6,622.6 L779.1,630.9 Q779.3,632.0 779.9,633.3 Q780.6,634.7 780.8,633.6 L781.3,625.2"/>
<path class="lw" d="M775.6,616.0 L776.1,624.7 Q776.3,625.3 776.2,627.3 Q776.2,629.4 776.4,628.8 L776.9,620.1"/>
<path class="ln" d="M775.5,615.0 A98.1,30.3 0 0 0 971.7,615.0" />
<ellipse class="lw" cx="874" cy="611.3" rx="93" ry="29.4"/>
<ellipse class="ln" cx="874.5" cy="607.7" rx="83.4" ry="27.5"/>
<ellipse class="ln" cx="874.5" cy="602.2" rx="78.8" ry="28.4"/>
<path class="lw" d="M829,598 Q829.2,596 833.2,594.7 L834.3,546 A39,18.6 0 0 1 912.3,544.4 L914.9,590.3 Q919.2,592 919.4,594.6 A45.4,19 -1.5 0 1 829,598 Z"/>
<path class="ln" d="M833.2,594.7 A41,15.4 -2.5 0 0 914.9,590.3"/>
<ellipse class="ln" cx="873.8" cy="544" rx="33" ry="15.4"/>
<path class="lw" d="M973.4,620.4 Q973.6,617.4 977.6,616.2 Q982,615.2 985.6,616.6 Q988.6,618 988.6,620.6 L988.6,625.4 Q988,628 984.4,628.6 L977,628.6 L974,625 Z"/>
<path class="ln" d="M973.6,621 Q975,624.6 981,624.6 Q987,624.2 988.6,620.8" style="stroke-width:1.7"/>
<ellipse class="ln" cx="980.6" cy="619.8" rx="3" ry="1.6" style="stroke-width:1.7"/>
</g>
<!-- 80_bot_nut.svg -->
<g id="botNut">
<path class="lw" d="M1013,640 Q998,652 990.5,672 Q984.4,692 984,712 Q984.4,734 990,752 Q994,764 1000,771.5 L1092,776.4 L1104,652.7 Z" style="stroke-width:1.6"/>
<path class="ln" d="M1040.6,630.7 Q1036,642 1033.3,651.5 Q1022,670 1017.4,683.3 Q1012.4,702 1012.5,719.9 Q1012.6,740 1014.9,756.5 L1018.6,774"/>
<path class="lw" d="M1015,641.7 Q1011,641 1011.2,636.6 Q1011.6,631 1018.6,628.3 L1040.6,629.5 L1062.6,634.4 L1116.3,655.2 L1091.9,656.4 L1038.1,641.7 Z"/>
<path class="ln" d="M1042,633.6 L1064,638 L1104,653.4" style="stroke-width:1.6"/>
<path class="ln" d="M1040.8,629.6 L1038.2,641.6" style="stroke-width:2.6"/>
<path class="ln" d="M1019.6,628.6 Q1017.6,635 1018.4,641.6" style="stroke-width:1.6"/>
<path class="lw" d="M994.2,677.2 Q990.4,675.6 990.8,671 Q991.6,666 996.6,664.9 L1018.6,668.6 L1074.8,685.7 L1072.3,695.5 L1017.4,682 Z"/>
<path class="ln" d="M1018.6,668.8 L1017.4,681.8" style="stroke-width:2.6"/>
<path class="ln" d="M998.4,665.4 Q996.4,671 997,677.6" style="stroke-width:1.6"/>
<path class="ln" d="M1018,672.4 L1073.6,689.6" style="stroke-width:1.6"/>
<path class="lw" d="M985.6,732.1 Q982.2,730.6 982.4,725.4 Q983,719.6 986.9,718.7 L1008.8,722.3 L1067.4,734.5 L1067.4,744.3 L1007.6,735.8 Z"/>
<path class="ln" d="M1008.8,722.5 L1007.6,735.6" style="stroke-width:2.6"/>
<path class="ln" d="M989,719.2 Q987.2,725 988,732.4" style="stroke-width:1.6"/>
<path class="ln" d="M1008.4,726.2 L1067.4,738" style="stroke-width:1.6"/>
<path class="lw" d="M994.2,771.2 Q990.6,769.4 990.9,764.6 Q991.6,759 995.4,757.7 L1017.4,761.4 L1069.9,766.3 L1086.5,776.4 L1093.1,777.4 L1077.2,776.4 L1017.4,776.1 Z"/>
<path class="ln" d="M1017.4,761.6 L1017.4,776" style="stroke-width:2.6"/>
<path class="ln" d="M997.4,758.2 Q995.8,764 996.4,771.6" style="stroke-width:1.6"/>
<path class="ln" d="M1017.4,765.4 L1072,770.4" style="stroke-width:1.6"/>
<path class="ln" d="M1040,777.6 L1078,778" style="stroke-width:1.6"/>
<ellipse class="lw" cx="1097" cy="713.4" rx="27.4" ry="62.6" transform="rotate(8.4 1097 713.4)"/>
<ellipse class="ln" cx="1097.2" cy="714" rx="23.6" ry="58" transform="rotate(8.4 1097.2 714)" style="stroke-width:1.6"/>
<path class="ln" d="M1113.6,654.6 L1116.6,655.4 L1117.4,658.6 M1124.6,686.6 L1126.4,689.6 L1125.6,693 M1069.6,730 L1068.6,733.4 L1070,736.6 M1076,771.4 L1077.6,774.4 L1081,775.4" style="stroke-width:1.7"/>
<path class="ln" d="M1088.9,668.1 Q1092,678 1092.8,688 Q1093.2,694 1092.6,698" style="stroke-width:1.5"/>
<path class="ln" d="M1086.9,675.5 Q1088.8,684 1088.9,692" style="stroke-width:1.7"/>
<path class="ln" d="M1085.5,727.6 Q1083,736 1080.2,740.6 Q1077,748 1074.1,754.1" style="stroke-width:1.5"/>
<path class="ln" d="M1083.3,728 Q1079,739 1073.4,748.7" style="stroke-width:1.7"/>
<path class="ln" d="M1079.6,689.4 L1088.9,693.6" style="stroke-width:1.7"/>
<path class="ln" d="M1072.1,733.3 L1084.9,728.5" style="stroke-width:1.7"/>
<path class="ln" d="M1088.9,695.6 Q1079.6,700 1077.4,708 Q1076,716 1079.5,724.5 Q1082,727.6 1086.2,727.9" style="stroke-width:1.6"/>
<path class="lw" d="M1084.9,702.3 L1096.6,703.4 L1096.6,725.8 L1082.2,722.5 Q1078.6,712 1084.9,702.3 Z" style="stroke-width:1.8"/>
<ellipse class="lw" cx="1097" cy="714.5" rx="4.8" ry="11.3" style="stroke-width:1.8"/>
<ellipse class="bk" cx="1096.8" cy="714.5" rx="2" ry="3.8"/>
</g>
<!-- text -->
<g style="filter:grayscale(1)">
<text x="53.0" y="36.8" font-size="29.19" font-weight="700" textLength="238.0" lengthAdjust="spacingAndGlyphs">LPG Control Valve</text>
<text x="52.6" y="64.5" font-size="21.08" font-weight="700" textLength="119.4" lengthAdjust="spacingAndGlyphs">Instructions:</text>
<text x="54.0" y="92.0" font-size="21.80" font-weight="400" textLength="295.0" lengthAdjust="spacingAndGlyphs">1. Wrench tighten all connections</text>
<text x="53.0" y="120.5" font-size="21.80" font-weight="400" textLength="682.0" lengthAdjust="spacingAndGlyphs">2. Before Lighting, check all connections for gas leaks using soapy liquid. The</text>
<text x="64.0" y="147.7" font-size="21.80" font-weight="400" textLength="398.0" lengthAdjust="spacingAndGlyphs">appearance of bubbles indicates a gas leak.</text>
<text x="81.4" y="175.7" font-size="21.08" font-weight="700" textLength="404.6" lengthAdjust="spacingAndGlyphs">Do not use if gas leak cannot be stopped.</text>
<text x="411.0" y="210.0" font-size="29.07" font-weight="700" textLength="162.0" lengthAdjust="spacingAndGlyphs">1/4-in FNPT</text>
<text x="696.0" y="210.0" font-size="29.07" font-weight="700" textLength="164.0" lengthAdjust="spacingAndGlyphs">1/4-in FNPT</text>
<text x="447.6" y="246.2" font-size="27.62" font-weight="400" textLength="88.4" lengthAdjust="spacingAndGlyphs">-INLET-</text>
<text x="719.0" y="246.2" font-size="27.62" font-weight="400" textLength="115.0" lengthAdjust="spacingAndGlyphs">-OUTLET-</text>
<text x="98.0" y="246.0" font-size="29.07" font-weight="700" textLength="189.5" lengthAdjust="spacingAndGlyphs">LPG Regulator</text>
<text x="968.0" y="245.8" font-size="29.07" font-weight="700" textLength="125.6" lengthAdjust="spacingAndGlyphs">LPG Hose</text>
<text x="556.0" y="492.5" font-size="20.35" font-weight="400" textLength="451.4" lengthAdjust="spacingAndGlyphs">Increase or Decrease gas flow by turning the valve</text>
<text x="557.0" y="518.8" font-size="20.35" font-weight="400" textLength="271.0" lengthAdjust="spacingAndGlyphs">as indicated on the valve knob</text>
<text x="62.0" y="558.2" font-size="26.16" font-weight="400" textLength="451.0" lengthAdjust="spacingAndGlyphs">The Control Valve controls the “Volume” of</text>
<text x="61.8" y="590.8" font-size="26.16" font-weight="400" textLength="43.9" lengthAdjust="spacingAndGlyphs">Gas</text>
<text x="113.6" y="590.8" font-size="26.16" font-weight="700" textLength="69.7" lengthAdjust="spacingAndGlyphs">ONLY</text>
<text x="184.4" y="590.8" font-size="26.16" font-weight="400" textLength="318.0" lengthAdjust="spacingAndGlyphs">. Use the Valve of the Propane</text>
<text x="61.0" y="624.2" font-size="26.16" font-weight="400" textLength="433.0" lengthAdjust="spacingAndGlyphs">Tank to turn Gas Supply “ON” or “OFF”.</text>
<text x="1001.0" y="579.7" font-size="21.37" font-weight="400" textLength="143.0" lengthAdjust="spacingAndGlyphs">Connect to Tank</text>
<text x="1012.0" y="607.0" font-size="21.08" font-weight="700" textLength="122.6" lengthAdjust="spacingAndGlyphs">CLOCKWISE</text>
<text x="750.6" y="754.6" font-size="21.22" font-weight="400" textLength="188.0" lengthAdjust="spacingAndGlyphs">Disconnect from Tank</text>
<text x="729.0" y="782.0" font-size="21.08" font-weight="700" textLength="232.2" lengthAdjust="spacingAndGlyphs">COUNTER-CLOCKWISE</text>
</g>
</svg>
</body>
</html>
